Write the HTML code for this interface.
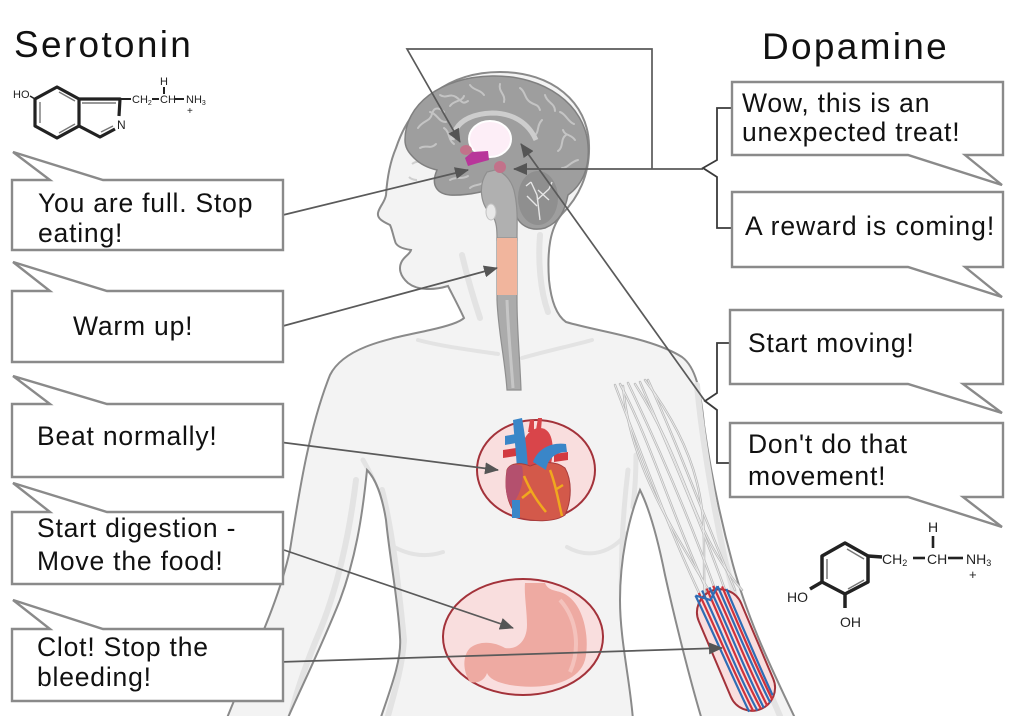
<!DOCTYPE html>
<html><head><meta charset="utf-8"><style>
html,body{margin:0;padding:0;background:#fff;}
svg{display:block;}
text{font-family:"Liberation Sans",Arial,sans-serif;}
</style></head><body>
<svg width="1023" height="716" viewBox="0 0 1023 716" xmlns="http://www.w3.org/2000/svg">
<defs>
<marker id="ar" markerWidth="14" markerHeight="12" refX="13" refY="6" orient="auto" markerUnits="userSpaceOnUse"><path d="M0,0 L14,6 L0,12 Z" fill="#555"/></marker>
</defs>
<rect width="1023" height="716" fill="#fff"/>

<!-- BODY -->
<path d="M227,718 C250,660 278,605 290,550 C298,500 308,430 330,375 C345,345 395,338 430,330 C448,326 460,322 464,318 C458,305 452,294 448,286 C435,290 418,291 408,283 C400,276 398,268 402,261 C405,256 410,254 411,250 C404,249 396,247 395,241 C393,235 392,229 390,225 C384,222 377,219 378,213 C379,207 385,202 386,195 C387,180 390,162 396,148 C412,100 450,72 500,72 C552,72 588,102 589,145 C590,175 578,198 562,214 C550,228 547,250 549,280 C551,300 556,315 566,322 C600,332 652,338 682,357 C697,368 701,395 704,425 C711,475 722,525 733,565 C748,620 772,670 795,718 Z" fill="#f3f3f3" stroke="#8a8a8a" stroke-width="2"/>

<!-- shading -->
<g fill="none" stroke="#e3e3e3" stroke-linecap="round">
<path d="M356,480 C350,530 338,590 316,640 C304,670 295,695 291,716" stroke-width="6"/>
<path d="M382,490 C392,530 398,580 404,640 C402,670 392,700 388,716" stroke-width="6"/>
<path d="M697,385 C701,430 712,500 725,560 C740,620 760,670 780,716" stroke-width="6"/>
<path d="M628,470 C622,520 620,570 622,620" stroke-width="5"/>
<path d="M462,255 C468,280 474,300 480,318" stroke-width="6"/>
<path d="M540,235 C538,260 540,290 548,312" stroke-width="6"/>
<path d="M418,340 C440,346 470,350 498,354" stroke-width="4"/>
<path d="M522,358 C550,350 575,345 592,340" stroke-width="4"/>
<path d="M383,540 C405,556 425,558 443,552" stroke-width="4"/>
<path d="M567,547 C590,560 612,552 627,533" stroke-width="4"/>
<path d="M363,460 C372,475 378,490 382,507" stroke-width="5"/>
<path d="M636,455 C636,475 635,490 633,507" stroke-width="5"/>
</g>
<!-- gaps -->
<path d="M367,470 C362,520 355,560 340,600 C320,650 300,690 287,720 L380,720 C390,690 402,660 400,637 C398,600 390,560 386,520 C382,495 375,478 367,470 Z" fill="#fff" stroke="#8a8a8a" stroke-width="2"/>
<path d="M640,490 C628,520 620,560 620,600 C620,640 630,680 633,720 L702,720 C690,680 675,620 665,575 C658,540 650,510 640,490 Z" fill="#fff" stroke="#8a8a8a" stroke-width="2"/>
<path d="M412,164 C416,161 421,161 426,163 M409,177 C411,179 414,180 417,180" fill="none" stroke="#cfcfcf" stroke-width="2"/>

<!-- BRAIN -->
<path d="M405,140 C405,105 440,77 492,76 C545,75 585,105 588,145 C590,168 582,185 568,195 C565,210 560,222 545,228 C530,232 518,225 515,212 L505,185 C490,190 470,196 450,195 C438,194 430,186 437,170 C428,168 420,164 414,158 C408,152 405,147 405,140 Z" fill="#9e9e9e" stroke="#808080" stroke-width="1.5"/>
<g fill="none" stroke="#c4c4c4" stroke-width="2" stroke-linecap="round">
<path d="M418,128 c5,-8 12,-6 14,-14 s8,-6 12,-2"/>
<path d="M420,148 c6,-4 10,2 16,-4"/>
<path d="M440,95 c6,4 10,-2 16,2 s6,8 12,4"/>
<path d="M470,85 c4,6 10,4 14,10"/>
<path d="M500,84 c-2,8 6,10 4,18"/>
<path d="M520,88 c6,4 4,10 10,14 s8,2 10,8"/>
<path d="M545,95 c2,8 10,8 10,16"/>
<path d="M560,112 c6,2 8,10 14,12"/>
<path d="M566,135 c-6,4 -2,12 -8,16"/>
<path d="M578,160 c-8,2 -10,8 -16,8"/>
<path d="M430,112 c8,2 8,10 16,10"/>
<path d="M450,106 c4,-6 12,-4 14,-10"/>
<path d="M450,180 c6,-4 12,0 18,-4"/>
<path d="M470,188 c4,-4 10,-2 14,-6"/>
<path d="M542,120 c-6,6 -2,12 -8,16"/>
<path d="M444,128 c6,4 4,12 10,16"/>
<path d="M575,140 c-4,-6 -10,-4 -12,-10"/>
</g>
<path d="M452,140 C455,122 470,114 492,113 C512,113 528,122 536,140" fill="none" stroke="#cdcdcd" stroke-width="5"/>
<ellipse cx="538" cy="198" rx="20" ry="27" fill="#8f8f8f"/>
<path d="M540,220 L537,195 M537,206 L527,196 M537,200 L549,189 M537,195 L531,182 M538,190 L549,200 M531,182 L526,186 M549,189 L552,182" fill="none" stroke="#e6e6e6" stroke-width="1.4"/>
<path d="M487,172 C478,185 480,205 492,215 C497,222 497,230 497,240 L517,240 C517,225 518,210 515,195 C513,182 505,172 495,170 Z" fill="#b0b0b0" stroke="#8f8f8f" stroke-width="1.2"/>
<ellipse cx="491" cy="212" rx="5" ry="8" fill="#e8e8e8" stroke="#c4c4c4"/>
<ellipse cx="490" cy="139" rx="21" ry="18" fill="#fdeef7" stroke="#ffffff" stroke-width="2"/>
<path d="M465,158 L472,152 L488,151 L489,160 L478,163 L468,166 Z" fill="#b8369a"/>
<ellipse cx="466" cy="150" rx="6" ry="5" fill="#c2728a"/>
<ellipse cx="500" cy="167" rx="6" ry="6" fill="#c2728a"/>
<!-- tube -->
<path d="M497,238 L517,238 L517,300 C517,330 520,360 521,390 L507,390 C505,360 498,330 497,300 Z" fill="#ababab" stroke="#8f8f8f" stroke-width="1.2"/>
<path d="M507,300 C508,330 511,360 513,388" fill="none" stroke="#c6c6c6" stroke-width="3"/>
<rect x="497" y="238" width="20" height="57" fill="#f1b59d"/>

<!-- HEART -->
<ellipse cx="536" cy="470" rx="59" ry="50" fill="#f9dede" stroke="#a3323a" stroke-width="2"/>
<path d="M528,432 L530,420 L534,420 L534,432 Z M536,430 L538,418 L542,418 L541,430 Z" fill="#d9454a"/>
<path d="M522,466 C518,442 528,428 540,428 C552,428 555,445 551,464 Z" fill="#d9454a"/>
<path d="M503,450 L516,448 L516,456 L503,458 Z M554,454 L568,452 L568,460 L554,462 Z" fill="#d23a40"/>
<path d="M513,420 L522,418 C525,435 527,450 528,470 L517,470 C516,450 514,435 513,420 Z M505,436 L516,434 L516,443 L505,445 Z" fill="#3a86c8"/>
<path d="M507,470 C504,490 508,508 520,518 C535,522 555,522 565,515 C572,500 572,480 565,468 C555,460 540,462 530,466 C520,462 510,463 507,470 Z" fill="#d3594a" stroke="#a83c3c" stroke-width="1"/>
<path d="M507,470 C504,485 506,500 512,505 C520,495 525,480 522,466 C515,463 509,465 507,470 Z" fill="#b4506e"/>
<path d="M533,462 C538,448 552,442 566,444 L567,452 C556,452 548,458 546,470 Z" fill="#3a86c8"/>
<rect x="512" y="500" width="8" height="18" fill="#3a86c8"/>
<path d="M524,476 C530,490 536,500 546,512 M550,470 C556,485 558,500 562,516 M532,490 L522,498 M555,490 L563,485" fill="none" stroke="#f0a81e" stroke-width="2.5"/>

<!-- STOMACH -->
<ellipse cx="523" cy="637" rx="80" ry="58" fill="#f9dede" stroke="#a3323a" stroke-width="2"/>
<path d="M525,583 L545,583 C548,590 553,590 560,592 C585,600 590,640 585,660 C578,685 540,690 510,685 C500,683 490,680 487,673 C485,680 478,684 470,682 C462,670 463,655 470,648 C480,640 495,642 505,648 C518,650 527,640 527,625 C527,610 524,595 525,583 Z" fill="#eeaaa2"/>
<path d="M560,600 C578,620 580,650 570,672" fill="none" stroke="#f4c2bc" stroke-width="4"/>

<!-- NERVES -->
<g fill="none" stroke-linecap="round">
<g stroke="#b8b8b8" stroke-width="2.4">
<path d="M615,385 C640,450 665,520 700,595"/>
<path d="M620,384 C650,440 670,510 708,593"/>
<path d="M628,383 C660,450 690,520 716,592"/>
<path d="M640,382 C665,440 700,520 725,590"/>
<path d="M648,380 C680,450 705,520 735,590"/>
<path d="M623,386 C630,470 680,540 712,596"/>
<path d="M635,384 C690,470 690,530 742,590"/>
<path d="M645,380 C720,480 700,540 705,595"/>
</g>
<g stroke="#ececec" stroke-width="0.9">
<path d="M615,385 C640,450 665,520 700,595"/>
<path d="M620,384 C650,440 670,510 708,593"/>
<path d="M628,383 C660,450 690,520 716,592"/>
<path d="M640,382 C665,440 700,520 725,590"/>
<path d="M648,380 C680,450 705,520 735,590"/>
<path d="M623,386 C630,470 680,540 712,596"/>
<path d="M635,384 C690,470 690,530 742,590"/>
<path d="M645,380 C720,480 700,540 705,595"/>
</g>
</g>
<!-- ARM PILL -->
<g transform="translate(736,650) rotate(-23)">
<rect x="-23" y="-64" width="46" height="128" rx="23" fill="#f9dede" stroke="#a3323a" stroke-width="2"/>
<g fill="none" stroke-width="2.2">
<path d="M-16,-66 C-14,-20 -14,20 -12,62" stroke="#2f6db5"/>
<path d="M-8,-68 C-6,-20 -8,20 -4,64" stroke="#2f6db5"/>
<path d="M0,-68 C2,-20 0,20 3,64" stroke="#2f6db5"/>
<path d="M8,-66 C9,-20 8,20 11,62" stroke="#2f6db5"/>
<path d="M15,-60 C15,-20 15,20 16,56" stroke="#2f6db5"/>
<path d="M-12,-67 C-10,-20 -11,20 -8,63" stroke="#d0323a"/>
<path d="M-3,-68 C-2,-20 -4,20 0,64" stroke="#d0323a"/>
<path d="M4,-68 C6,-20 4,20 7,64" stroke="#d0323a"/>
<path d="M12,-64 C12,-20 12,20 14,60" stroke="#d0323a"/>
<path d="M-16,-66 L-4,-56 L8,-66" stroke="#2f6db5"/>
</g>
</g>

<!-- CONNECTORS -->
<g fill="none" stroke="#5a5a5a" stroke-width="1.7">
<path d="M703,169 H514" marker-end="url(#ar)"/>
<path d="M652,169 V49 H407 L460,142" marker-end="url(#ar)"/>
<path d="M705,401 L521,144" marker-end="url(#ar)"/>
<path d="M283,215 L468,170" marker-end="url(#ar)"/>
<path d="M283,326 L497,268" marker-end="url(#ar)"/>
<path d="M279,442 L498,470" marker-end="url(#ar)"/>
<path d="M284,550 L513,628" marker-end="url(#ar)"/>
<path d="M279,662 L722,648" marker-end="url(#ar)"/>
</g>
<g fill="none" stroke="#3a3a3a" stroke-width="1.8">
<path d="M732,108 H717 V160 L703,168 L717,177 V228 H732"/>
<path d="M730,343 H717 V393 L705,401 L717,410 V463 H730"/>
</g>

<!-- BUBBLES -->
<g fill="#fff" stroke="#8a8a8a" stroke-width="2.4" stroke-linejoin="miter">
<path d="M12,180 H50 L13,152 L103,180 H283 V250 H12 Z"/>
<path d="M12,291 H50 L13,262 L107,291 H283 V362 H12 Z"/>
<path d="M12,404 H50 L13,376 L107,404 H283 V477 H12 Z"/>
<path d="M12,512 H50 L13,483 L107,512 H283 V584 H12 Z"/>
<path d="M12,629 H50 L13,600 L103,629 H283 V701 H12 Z"/>
<path d="M732,82 H1003 V155 H965 L1002,185 L908,155 H732 Z"/>
<path d="M732,192 H1003 V267 H965 L1002,297 L908,267 H732 Z"/>
<path d="M730,310 H1003 V384 H963 L1002,413 L908,384 H730 Z"/>
<path d="M730,423 H1003 V497 H963 L1002,527 L908,497 H730 Z"/>
</g>

<!-- TEXT -->
<g fill="#111" font-size="26.5" letter-spacing="0.8">
<text x="38" y="212">You are full. Stop</text>
<text x="38" y="242">eating!</text>
<text x="73" y="335">Warm up!</text>
<text x="37" y="445">Beat normally!</text>
<text x="37" y="537">Start digestion -</text>
<text x="37" y="570">Move the food!</text>
<text x="37" y="656">Clot! Stop the</text>
<text x="37" y="686">bleeding!</text>
<text x="742" y="112">Wow, this is an</text>
<text x="742" y="141">unexpected treat!</text>
<text x="745" y="235" letter-spacing="1">A reward is coming!</text>
<text x="748" y="352">Start moving!</text>
<text x="748" y="453">Don't do that</text>
<text x="748" y="485">movement!</text>
</g>
<g fill="#111" font-size="37" letter-spacing="2.3">
<text x="14" y="57">Serotonin</text>
<text x="762" y="59">Dopamine</text>
</g>

<!-- SEROTONIN STRUCTURE -->
<g fill="none" stroke="#222" stroke-width="3.2" stroke-linejoin="round">
<polygon points="57,87 79,99 79,126 57,138 35,126 35,99"/>
<polyline points="79,99 120,99 119,116"/>
<polyline points="115,129 100,137 79,126"/>
</g>
<g fill="none" stroke="#777" stroke-width="1.4">
<line x1="40" y1="102" x2="40" y2="123"/>
<line x1="59" y1="92" x2="75" y2="101"/>
<line x1="59" y1="133" x2="75" y2="124"/>
<line x1="82" y1="103" x2="116" y2="103"/>
<line x1="101" y1="132" x2="113" y2="126"/>
</g>
<line x1="30" y1="96" x2="35" y2="99" stroke="#222" stroke-width="1.5"/>
<g fill="#222" font-size="11">
<text x="13" y="98">HO</text>
<text x="117" y="129" font-size="12">N</text>
<text x="132" y="103">CH<tspan font-size="7" dy="2">2</tspan></text>
<text x="160" y="103">CH</text>
<text x="160" y="85">H</text>
<text x="186" y="103">NH<tspan font-size="7" dy="2">3</tspan></text>
<text x="187" y="114" font-size="10">+</text>
</g>
<g stroke="#222" stroke-width="2">
<line x1="152" y1="99" x2="159" y2="99"/>
<line x1="164" y1="87" x2="164" y2="94"/>
<line x1="174" y1="99" x2="184" y2="99"/>
<line x1="120" y1="99" x2="131" y2="99"/>
</g>

<!-- DOPAMINE STRUCTURE -->
<g fill="none" stroke="#222" stroke-width="3.5" stroke-linejoin="round">
<polygon points="845,543 868,556 868,582 845,594 822,582 822,556"/>
<line x1="868" y1="556" x2="882" y2="557"/>
<line x1="822" y1="582" x2="810" y2="589"/>
<line x1="845" y1="594" x2="845" y2="608"/>
</g>
<g fill="none" stroke="#777" stroke-width="1.5">
<line x1="827" y1="559" x2="827" y2="579"/>
<line x1="847" y1="549" x2="864" y2="559"/>
<line x1="848" y1="589" x2="864" y2="580"/>
</g>
<g stroke="#222" stroke-width="2.6">
<line x1="913" y1="558" x2="925" y2="558"/>
<line x1="933" y1="536" x2="933" y2="548"/>
<line x1="948" y1="558" x2="963" y2="558"/>
</g>
<g fill="#222" font-size="14">
<text x="787" y="602">HO</text>
<text x="840" y="627">OH</text>
<text x="882" y="564">CH<tspan font-size="9" dy="2">2</tspan></text>
<text x="927" y="564">CH</text>
<text x="928" y="532">H</text>
<text x="966" y="564">NH<tspan font-size="9" dy="2">3</tspan></text>
<text x="969" y="579" font-size="13">+</text>
</g>
</svg>
</body></html>
